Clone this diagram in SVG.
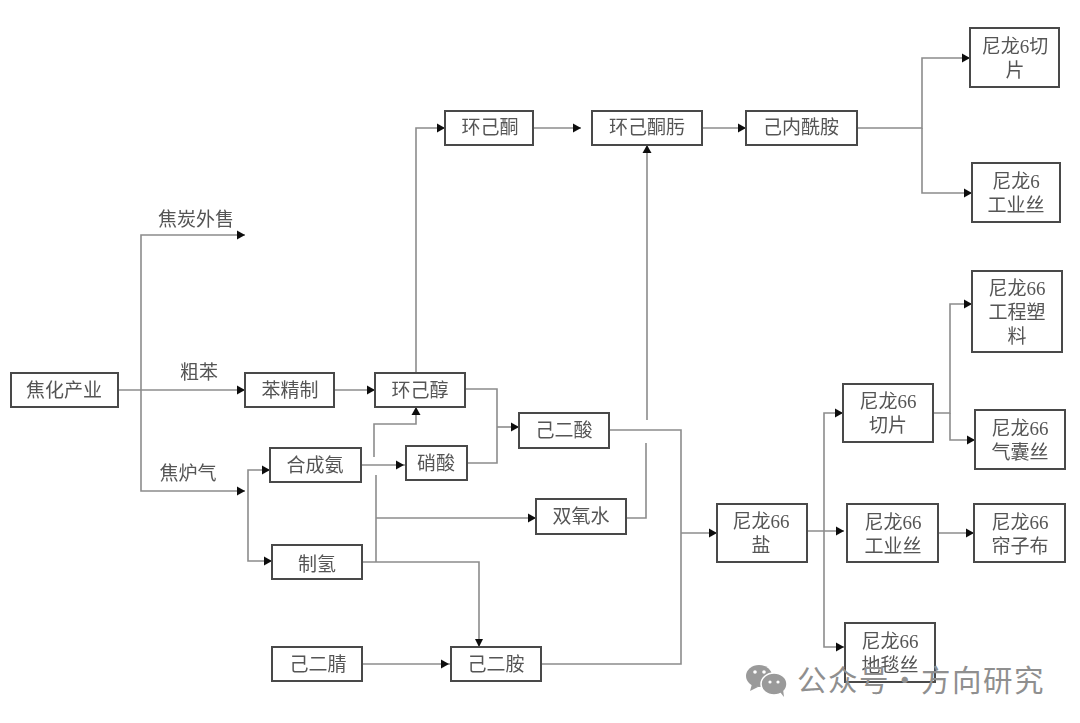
<svg xmlns="http://www.w3.org/2000/svg" width="1080" height="723" viewBox="0 0 1080 723">
<style>
.b{fill:#fff;stroke:#4a4a4a;stroke-width:2}
.t{font-family:"Liberation Serif","Noto Sans CJK SC",serif;font-size:19px;fill:#555;text-anchor:middle}
.c path{fill:none;stroke:#8c8c8c;stroke-width:1.6}
.a{fill:#111}
.w{font-family:"Noto Sans CJK SC","Noto Sans",sans-serif;font-size:29.500px;fill:#8f8f8f;letter-spacing:1.500px}
</style>
<defs>
<filter id="s" x="-5%" y="-5%" width="110%" height="110%"><feGaussianBlur stdDeviation="0.45"/></filter>
<path id="r" class="a" d="M-8,-4.500L0,0L-8,4.500Z"/>
</defs>
<rect width="1080" height="723" fill="#fff"/>
<g filter="url(#s)">
<g id="connectors" class="c">
<path d="M118,390H245"/><path d="M141,390V235H245"/><path d="M141,390V491H245"/>
<path d="M334,390H375"/>
<path d="M416,373V128H445"/><path d="M533,128H581"/><path d="M702,128H746"/>
<path d="M857,128H922V58H970"/><path d="M922,128V193H972"/>
<path d="M248,491V470H270"/><path d="M248,491V561H272"/>
<path d="M361,465H406"/>
<path d="M374,457V424H416V407"/>
<path d="M376,475V562M362,562H479V646"/>
<path d="M376,518H536"/>
<path d="M465,389H497V463H467"/><path d="M497,427H519"/>
<path d="M627,518H646V443M647,420V145"/>
<path d="M609,430H681V664H541"/><path d="M681,533H717"/>
<path d="M362,664H451"/>
<path d="M807,531H844"/><path d="M824,531V413H843"/><path d="M824,531V647H845"/>
<path d="M933,413H950V304H972"/><path d="M950,413V440H975"/>
<path d="M938,533H974"/>
</g>
<g id="arrows">
<use href="#r" x="245" y="390"/><use href="#r" x="245" y="235"/><use href="#r" x="245" y="491"/>
<use href="#r" x="375" y="390"/><use href="#r" x="445" y="128"/><use href="#r" x="581" y="128"/><use href="#r" x="746" y="128"/>
<use href="#r" x="970" y="58"/><use href="#r" x="972" y="193"/><use href="#r" x="270" y="470"/><use href="#r" x="272" y="561"/>
<use href="#r" x="404" y="465"/><use href="#r" x="536" y="518"/><use href="#r" x="519" y="427"/><use href="#r" x="717" y="533"/>
<use href="#r" x="449" y="664"/><use href="#r" x="844" y="531"/><use href="#r" x="843" y="413"/><use href="#r" x="844" y="647"/>
<use href="#r" x="972" y="304"/><use href="#r" x="975" y="440"/><use href="#r" x="974" y="533"/>
<path class="a" d="M416,407l-4.500,8h9z"/><path class="a" d="M647,145l-4.500,8h9z"/><path class="a" d="M479,647l-4,-8h8z"/>
</g>
<g id="n1"><rect class="b" x="11" y="373" width="107" height="34"/><text class="t" x="64" y="397">焦化产业</text></g>
<g id="n2"><rect class="b" x="245" y="373" width="89" height="34"/><text class="t" x="290" y="397">苯精制</text></g>
<g id="n3"><rect class="b" x="375" y="373" width="90" height="34"/><text class="t" x="420" y="397">环己醇</text></g>
<g id="n4"><rect class="b" x="270" y="448" width="91" height="34"/><text class="t" x="315" y="472">合成氨</text></g>
<g id="n5"><rect class="b" x="406" y="446" width="61" height="34"/><text class="t" x="436" y="470">硝酸</text></g>
<g id="n6"><rect class="b" x="272" y="545" width="90" height="34"/><text class="t" x="317" y="571">制氢</text></g>
<g id="n7"><rect class="b" x="272" y="647" width="90" height="34"/><text class="t" x="318" y="671">己二腈</text></g>
<g id="n8"><rect class="b" x="451" y="647" width="90" height="34"/><text class="t" x="496" y="671">己二胺</text></g>
<g id="n9"><rect class="b" x="519" y="413" width="90" height="35"/><text class="t" x="564" y="437">己二酸</text></g>
<g id="n10"><rect class="b" x="536" y="499" width="90" height="35"/><text class="t" x="581" y="523">双氧水</text></g>
<g id="n11"><rect class="b" x="445" y="111" width="88" height="34"/><text class="t" x="490" y="134">环己酮</text></g>
<g id="n12"><rect class="b" x="592" y="111" width="110" height="34"/><text class="t" x="647" y="134">环己酮肟</text></g>
<g id="n13"><rect class="b" x="746" y="111" width="111" height="34"/><text class="t" x="801" y="134">己内酰胺</text></g>
<g id="n14"><rect class="b" x="970" y="28" width="89" height="59"/><text class="t" x="1015" y="53">尼龙6切</text><text class="t" x="1015" y="77">片</text></g>
<g id="n15"><rect class="b" x="972" y="163" width="88" height="59"/><text class="t" x="1016" y="188">尼龙6</text><text class="t" x="1016" y="212">工业丝</text></g>
<g id="n16"><rect class="b" x="972" y="271" width="90" height="81"/><text class="t" x="1017" y="295">尼龙66</text><text class="t" x="1017" y="319">工程塑</text><text class="t" x="1017" y="343">料</text></g>
<g id="n17"><rect class="b" x="843" y="384" width="90" height="58"/><text class="t" x="888" y="408">尼龙66</text><text class="t" x="888" y="432">切片</text></g>
<g id="n18"><rect class="b" x="975" y="410" width="90" height="59"/><text class="t" x="1020" y="435">尼龙66</text><text class="t" x="1020" y="459">气囊丝</text></g>
<g id="n19"><rect class="b" x="717" y="504" width="90" height="58"/><text class="t" x="761" y="528">尼龙66</text><text class="t" x="761" y="552">盐</text></g>
<g id="n20"><rect class="b" x="847" y="504" width="91" height="58"/><text class="t" x="893" y="529">尼龙66</text><text class="t" x="893" y="553">工业丝</text></g>
<g id="n21"><rect class="b" x="974" y="504" width="91" height="58"/><text class="t" x="1020" y="529">尼龙66</text><text class="t" x="1020" y="553">帘子布</text></g>
<g id="n22"><rect class="b" x="845" y="623" width="90" height="59"/><text class="t" x="890" y="648">尼龙66</text><text class="t" x="890" y="672">地毯丝</text></g>
<g id="labels">
<text class="t" x="196" y="226">焦炭外售</text><text class="t" x="199" y="379">粗苯</text><text class="t" x="188" y="480">焦炉气</text>
</g>
</g>
<g id="watermark" fill="#9a9a9a">
<ellipse cx="759" cy="676" rx="13" ry="11"/><path d="M752,684l-2,7l8,-4z"/>
<ellipse cx="774" cy="684" rx="13" ry="11" stroke="#fff" stroke-width="1.500"/><path d="M780,692l4,5l-1,-8z"/>
<circle cx="755" cy="672" r="1.800" fill="#fff"/><circle cx="764" cy="672" r="1.800" fill="#fff"/><circle cx="770" cy="682" r="1.600" fill="#fff"/><circle cx="778" cy="682" r="1.600" fill="#fff"/>
<text class="w" x="797" y="691">公众号・方向研究</text>
</g>
</svg>
